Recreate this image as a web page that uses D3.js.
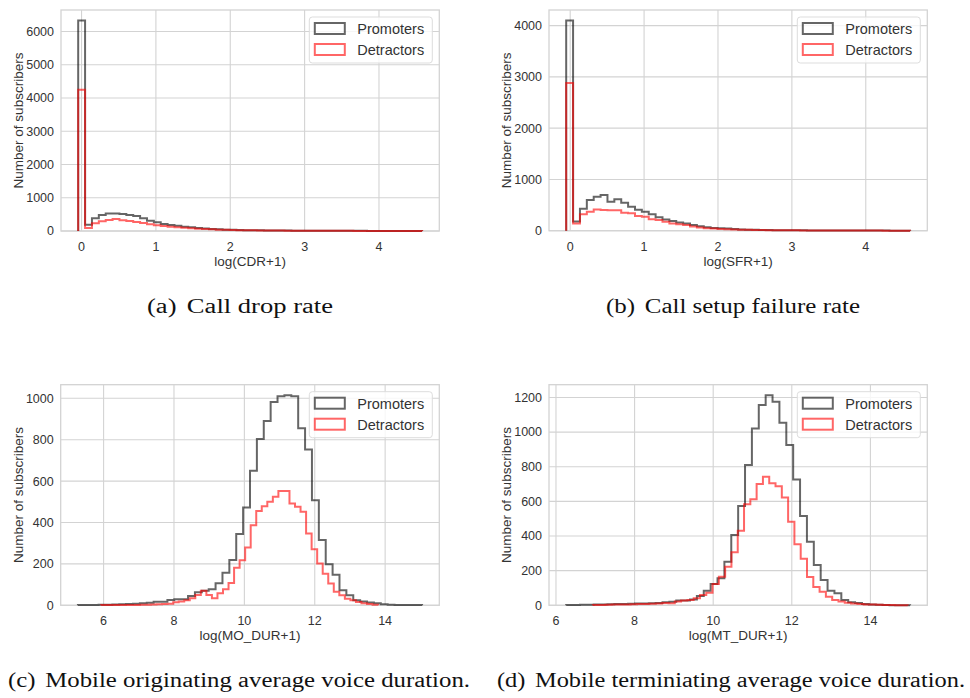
<!DOCTYPE html>
<html>
<head>
<meta charset="utf-8">
<script src="https://cdn.jsdelivr.net/npm/d3@7"></script>
<style>
  body { margin: 0; background: #fff; }
  svg { display: block; }
</style>
</head>
<body>
<div id="chart"></div>
<script>
// histogram data: bin range [lo, hi] and 50 counts per series
var cdrPromRange = [-0.045, 4.58];
var cdrPromoters = [6330, 190, 380, 480, 530, 530, 510, 480, 450, 380,
  310, 260, 210, 180, 160, 130, 110, 90, 75, 60,
  50, 40, 35, 30, 25, 22, 20, 18, 16, 14,
  12, 11, 10, 9, 8, 7, 6, 6, 5, 5,
  4, 4, 3, 3, 3, 2, 2, 2, 2, 1];
var cdrDetRange = [-0.045, 4.58];
var cdrDetractors = [4250, 90, 230, 290, 330, 360, 320, 300, 270, 240,
  200, 170, 150, 130, 110, 95, 80, 70, 60, 50,
  40, 35, 30, 25, 22, 20, 18, 16, 14, 12,
  11, 10, 9, 8, 7, 6, 5, 5, 4, 4,
  3, 3, 3, 2, 2, 2, 2, 1, 1, 1];

var sfrPromRange = [-0.054, 4.6];
var sfrPromoters = [4100, 180, 430, 600, 660, 695, 565, 615, 545, 465,
  410, 370, 320, 260, 220, 190, 160, 140, 110, 85,
  65, 55, 48, 42, 32, 25, 20, 18, 15, 13,
  11, 10, 9, 8, 7, 6, 5, 5, 4, 4,
  3, 3, 3, 2, 2, 2, 2, 1, 1, 1];
var sfrDetRange = [-0.054, 4.6];
var sfrDetractors = [2880, 140, 320, 370, 415, 405, 400, 400, 350, 340,
  285, 270, 225, 210, 175, 140, 125, 110, 80, 60,
  50, 42, 35, 30, 25, 20, 17, 15, 13, 11,
  10, 9, 8, 7, 6, 5, 5, 4, 4, 3,
  3, 3, 2, 2, 2, 2, 1, 1, 1, 1];

var moPromRange = [5.27, 15.05];
var moPromoters = [2, 1, 2, 3, 3, 4, 5, 6, 8, 10,
  12, 17, 17, 26, 29, 29, 45, 63, 70, 77,
  106, 157, 219, 344, 473, 650, 803, 890, 982, 1010,
  1015, 1010, 855, 753, 508, 315, 198, 148, 73, 48,
  24, 18, 13, 10, 5, 3, 2, 1, 1, 1];
var moDetRange = [5.93, 13.80];
var moDetractors = [1, 1, 1, 1, 2, 2, 2, 3, 3, 4,
  5, 6, 8, 15, 18, 25, 34, 50, 70, 50,
  34, 58, 77, 108, 182, 218, 279, 387, 455, 479,
  500, 524, 552, 552, 492, 476, 452, 347, 271, 202,
  153, 105, 65, 48, 32, 24, 16, 10, 6, 3];

var mtPromRange = [6.26, 15.01];
var mtPromoters = [2, 2, 3, 3, 4, 5, 6, 7, 8, 9,
  10, 10, 12, 14, 18, 21, 27, 27, 34, 53,
  84, 123, 156, 252, 406, 573, 810, 1021, 1156, 1213,
  1175, 1054, 925, 727, 515, 367, 233, 146, 84, 69,
  31, 18, 13, 8, 5, 3, 2, 1, 1, 1];
var mtDetRange = [6.94, 14.95];
var mtDetractors = [2, 2, 3, 4, 5, 5, 6, 7, 8, 9,
  10, 14, 12, 22, 27, 31, 41, 60, 73, 123,
  165, 222, 306, 430, 584, 612, 700, 742, 704, 688,
  623, 482, 352, 269, 163, 106, 78, 50, 31, 22,
  15, 10, 7, 5, 4, 3, 2, 2, 1, 1];

var seriesNames = ["Promoters", "Detractors"];
var rateTicksX = [0, 1, 2, 3, 4];
var durTicksX = [6, 8, 10, 12, 14];
var cdrTicksY = [0, 1000, 2000, 3000, 4000, 5000, 6000];
var sfrTicksY = [0, 1000, 2000, 3000, 4000];
var moTicksY = [0, 200, 400, 600, 800, 1000];
var mtTicksY = [0, 200, 400, 600, 800, 1000, 1200];

var xLabels = ["log(CDR+1)", "log(SFR+1)", "log(MO_DUR+1)", "log(MT_DUR+1)"];
var captionTags = ["(a)", "(b)", "(c)", "(d)"];
var captionTexts = ["Call drop rate", "Call setup failure rate",
  "Mobile originating average voice duration.",
  "Mobile terminiating average voice duration."];

var W = 970, H = 698;
var svg = d3.select("#chart").append("svg")
  .attr("width", W).attr("height", H);

// panel layout (plot area in page pixels, caption placement)
var panels = [
  { box: [61, 10, 439.3, 231], prom: [cdrPromRange, cdrPromoters], det: [cdrDetRange, cdrDetractors],
    xt: rateTicksX, yt: cdrTicksY, cap: [147, 313, 186] },
  { box: [549, 10, 927.3, 230.7], prom: [sfrPromRange, sfrPromoters], det: [sfrDetRange, sfrDetractors],
    xt: rateTicksX, yt: sfrTicksY, cap: [606, 313, 254] },
  { box: [60.7, 384.7, 439.3, 605.3], prom: [moPromRange, moPromoters], det: [moDetRange, moDetractors],
    xt: durTicksX, yt: moTicksY, cap: [8, 687, 462] },
  { box: [549, 384.7, 927.3, 605.3], prom: [mtPromRange, mtPromoters], det: [mtDetRange, mtDetractors],
    xt: durTicksX, yt: mtTicksY, cap: [497, 687, 468] }
];

var colors = { prom: "#000000", det: "#ff0000" };
var gridColor = "#d3d3d3";
var textColor = "#333333";

panels.forEach(function (p, i) {
  var x0 = p.box[0], y0 = p.box[1], x1 = p.box[2], y1 = p.box[3];
  var lo = Math.min(p.prom[0][0], p.det[0][0]);
  var hi = Math.max(p.prom[0][1], p.det[0][1]);
  var pad = (hi - lo) * 0.05;
  var yMax = d3.max(p.prom[1].concat(p.det[1])) * 1.05;

  var x = d3.scaleLinear().domain([lo - pad, hi + pad]).range([x0, x1]);
  var y = d3.scaleLinear().domain([0, yMax]).range([y1, y0]);

  var g = svg.append("g");

  // grid
  g.selectAll(".gx").data(p.xt).enter().append("line")
    .attr("x1", function (d) { return x(d); }).attr("x2", function (d) { return x(d); })
    .attr("y1", y0).attr("y2", y1)
    .attr("stroke", gridColor).attr("stroke-width", 1.1);
  g.selectAll(".gy").data(p.yt).enter().append("line")
    .attr("x1", x0).attr("x2", x1)
    .attr("y1", function (d) { return y(d); }).attr("y2", function (d) { return y(d); })
    .attr("stroke", gridColor).attr("stroke-width", 1.1);

  // frame
  g.append("rect")
    .attr("x", x0).attr("y", y0).attr("width", x1 - x0).attr("height", y1 - y0)
    .attr("fill", "none").attr("stroke", gridColor).attr("stroke-width", 1.3);

  // tick labels
  g.selectAll(".tx").data(p.xt).enter().append("text")
    .attr("x", function (d) { return x(d); }).attr("y", y1 + 20)
    .attr("text-anchor", "middle")
    .style("font-family", "Liberation Sans, Arial, sans-serif").style("font-size", "12.5px")
    .attr("fill", textColor)
    .text(function (d) { return d; });
  g.selectAll(".ty").data(p.yt).enter().append("text")
    .attr("x", x0 - 7).attr("y", function (d) { return y(d) + 4.4; })
    .attr("text-anchor", "end")
    .style("font-family", "Liberation Sans, Arial, sans-serif").style("font-size", "12.5px")
    .attr("fill", textColor)
    .text(function (d) { return d; });

  // axis labels
  g.append("text")
    .attr("x", (x0 + x1) / 2).attr("y", y1 + 35)
    .attr("text-anchor", "middle")
    .style("font-family", "Liberation Sans, Arial, sans-serif").style("font-size", "13.5px")
    .attr("fill", textColor)
    .text(xLabels[i]);
  g.append("text")
    .attr("transform", "translate(" + (x0 - 38) + "," + ((y0 + y1) / 2) + ") rotate(-90)")
    .attr("text-anchor", "middle")
    .style("font-family", "Liberation Sans, Arial, sans-serif").style("font-size", "13.5px")
    .attr("fill", textColor)
    .text("Number of subscribers");

  // step histograms
  var line = d3.line()
    .x(function (d) { return x(d[0]); })
    .y(function (d) { return y(d[1]); });

  function stepPoints(range, counts) {
    var n = counts.length, w = (range[1] - range[0]) / n, pts = [[range[0], 0]];
    counts.forEach(function (c, k) {
      pts.push([range[0] + k * w, c]);
      pts.push([range[0] + (k + 1) * w, c]);
    });
    pts.push([range[1], 0]);
    return pts;
  }

  [["prom", p.prom], ["det", p.det]].forEach(function (s) {
    g.append("path")
      .attr("d", line(stepPoints(s[1][0], s[1][1])))
      .attr("fill", "none")
      .attr("stroke", colors[s[0]])
      .attr("stroke-opacity", 0.6)
      .attr("stroke-width", 2)
      .attr("stroke-linejoin", "miter");
  });

  // legend
  var lg = g.append("g").attr("transform", "translate(" + (x1 - 130) + "," + (y0 + 7) + ")");
  lg.append("rect")
    .attr("width", 123).attr("height", 46).attr("rx", 3)
    .attr("fill", "#ffffff").attr("fill-opacity", 0.8)
    .attr("stroke", "#dddddd").attr("stroke-width", 1);
  seriesNames.forEach(function (name, k) {
    var key = k === 0 ? "prom" : "det";
    lg.append("rect")
      .attr("x", 5.5).attr("y", 6 + k * 21).attr("width", 30).attr("height", 11)
      .attr("fill", "none").attr("stroke", colors[key])
      .attr("stroke-opacity", 0.6).attr("stroke-width", 2);
    lg.append("text")
      .attr("x", 48).attr("y", 17 + k * 21)
      .style("font-family", "Liberation Sans, Arial, sans-serif").style("font-size", "14.5px")
      .attr("fill", textColor)
      .text(name);
  });

  // caption
  var cap = svg.append("text")
    .attr("x", p.cap[0]).attr("y", p.cap[1])
    .attr("textLength", p.cap[2]).attr("lengthAdjust", "spacingAndGlyphs")
    .style("font-family", "Liberation Serif, Times New Roman, serif").style("font-size", "20.5px")
    .attr("fill", "#111");
  cap.append("tspan").text(captionTags[i]);
  cap.append("tspan").attr("dx", 8).text(captionTexts[i]);
});
</script>
</body>
</html>
